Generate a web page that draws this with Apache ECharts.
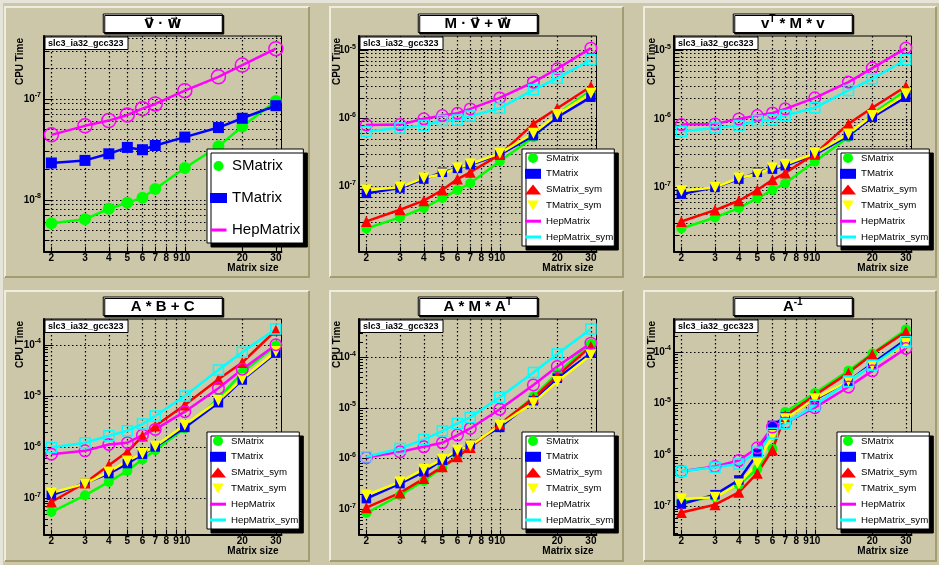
<!DOCTYPE html>
<html><head><meta charset="utf-8">
<script src="https://cdn.jsdelivr.net/npm/echarts@6/dist/echarts.min.js"></script>
<style>html,body{margin:0;padding:0;background:#ccc7a9;}#c{width:939px;height:565px;}</style>
</head><body><div id="c"></div>
<script>
// ---------------- data ----------------
const sizes = [2, 3, 4, 5, 6, 7, 10, 15, 20, 30];
const xTickValues = [2, 3, 4, 5, 6, 7, 8, 9, 10, 20, 30];
const panelTitles = ['v\u20D7 \u00B7 w\u20D7', 'M \u00B7 v\u20D7 + w\u20D7', '{t|v}{sup|T}{t| * M * v}', 'A * B + C', '{t|A * M * A}{sup|T}', '{t|A}{sup|-1}'];
const infoLabel = 'slc3_ia32_gcc323';
const xAxisTitle = 'Matrix size';
const yAxisTitle = 'CPU Time';

// panel 1 : v . w
const p1_SMatrix   = [5.84e-9, 6.40e-9, 8.15e-9, 9.33e-9, 1.05e-8, 1.28e-8, 2.07e-8, 3.39e-8, 5.33e-8, 9.55e-8];
const p1_TMatrix   = [2.32e-8, 2.46e-8, 2.86e-8, 3.31e-8, 3.14e-8, 3.46e-8, 4.19e-8, 5.21e-8, 6.44e-8, 8.59e-8];
const p1_HepMatrix = [4.41e-8, 5.42e-8, 6.11e-8, 6.95e-8, 8.03e-8, 8.93e-8, 1.21e-7, 1.66e-7, 2.17e-7, 3.16e-7];
// panel 2 : M . v + w
const p2_SMatrix       = [2.40e-8, 3.49e-8, 4.80e-8, 6.73e-8, 8.83e-8, 1.11e-7, 2.34e-7, 5.27e-7, 1.16e-6, 2.57e-6];
const p2_TMatrix       = [7.88e-8, 9.44e-8, 1.28e-7, 1.61e-7, 1.84e-7, 2.08e-7, 2.93e-7, 5.58e-7, 1.04e-6, 2.05e-6];
const p2_SMatrix_sym   = [3.05e-8, 4.53e-8, 6.15e-8, 8.83e-8, 1.28e-7, 1.61e-7, 2.93e-7, 8.30e-7, 1.41e-6, 2.94e-6];
const p2_TMatrix_sym   = [8.83e-8, 9.66e-8, 1.33e-7, 1.52e-7, 1.86e-7, 2.13e-7, 3.06e-7, 6.04e-7, 1.14e-6, 2.35e-6];
const p2_HepMatrix     = [8.02e-7, 8.10e-7, 9.85e-7, 1.10e-6, 1.19e-6, 1.38e-6, 2.00e-6, 3.41e-6, 5.37e-6, 1.08e-5];
const p2_HepMatrix_sym = [6.40e-7, 7.24e-7, 7.83e-7, 9.29e-7, 9.50e-7, 1.08e-6, 1.41e-6, 2.63e-6, 3.91e-6, 7.28e-6];
// panel 3 : vT * M * v
const p3_SMatrix       = [2.51e-8, 3.64e-8, 4.99e-8, 6.98e-8, 9.14e-8, 1.15e-7, 2.38e-7, 5.39e-7, 1.18e-6, 2.60e-6];
const p3_TMatrix       = [7.98e-8, 1.00e-7, 1.32e-7, 1.66e-7, 1.85e-7, 2.07e-7, 3.01e-7, 5.70e-7, 1.06e-6, 2.07e-6];
const p3_SMatrix_sym   = [3.18e-8, 4.66e-8, 6.38e-8, 9.14e-8, 1.29e-7, 1.62e-7, 3.08e-7, 8.45e-7, 1.45e-6, 2.97e-6];
const p3_TMatrix_sym   = [8.93e-8, 1.00e-7, 1.37e-7, 1.57e-7, 1.92e-7, 2.15e-7, 3.15e-7, 6.03e-7, 1.12e-6, 2.32e-6];
const p3_HepMatrix     = [8.26e-7, 8.45e-7, 1.00e-6, 1.12e-6, 1.22e-6, 1.40e-6, 2.03e-6, 3.44e-6, 5.51e-6, 1.08e-5];
const p3_HepMatrix_sym = [6.60e-7, 7.38e-7, 7.98e-7, 9.46e-7, 9.67e-7, 1.12e-6, 1.45e-6, 2.60e-6, 3.85e-6, 7.30e-6];
// panel 4 : A * B + C
const p4_SMatrix       = [5.47e-8, 1.16e-7, 2.12e-7, 3.48e-7, 5.79e-7, 8.81e-7, 2.34e-6, 9.04e-6, 2.88e-5, 9.70e-5];
const p4_TMatrix       = [1.16e-7, 2.02e-7, 3.08e-7, 4.83e-7, 7.36e-7, 1.02e-6, 2.45e-6, 7.43e-6, 2.06e-5, 6.87e-5];
const p4_SMatrix_sym   = [8.61e-8, 2.02e-7, 4.49e-7, 8.18e-7, 1.66e-6, 2.60e-6, 6.70e-6, 2.13e-5, 4.51e-5, 1.91e-4];
const p4_TMatrix_sym   = [1.29e-7, 1.96e-7, 3.32e-7, 5.44e-7, 7.59e-7, 1.05e-6, 2.72e-6, 8.15e-6, 2.16e-5, 7.41e-5];
const p4_HepMatrix     = [7.36e-7, 8.55e-7, 1.14e-6, 1.23e-6, 1.73e-6, 2.24e-6, 4.96e-6, 1.42e-5, 3.34e-5, 1.00e-4];
const p4_HepMatrix_sym = [9.93e-7, 1.23e-6, 1.68e-6, 2.11e-6, 2.85e-6, 4.08e-6, 1.00e-5, 3.24e-5, 7.18e-5, 2.03e-4];
// panel 5 : A * M * AT
const p5_SMatrix       = [8.47e-8, 1.90e-7, 3.64e-7, 6.68e-7, 1.09e-6, 1.71e-6, 4.59e-6, 1.67e-5, 4.83e-5, 1.84e-4];
const p5_TMatrix       = [1.63e-7, 3.22e-7, 5.48e-7, 9.33e-7, 1.36e-6, 1.90e-6, 4.13e-6, 1.39e-5, 3.84e-5, 1.20e-4];
const p5_SMatrix_sym   = [1.08e-7, 2.11e-7, 4.05e-7, 6.89e-7, 1.09e-6, 1.66e-6, 4.81e-6, 1.55e-5, 4.28e-5, 1.63e-4];
const p5_TMatrix_sym   = [1.90e-7, 3.48e-7, 6.19e-7, 9.75e-7, 1.47e-6, 1.79e-6, 4.59e-6, 1.27e-5, 3.30e-5, 1.11e-4];
const p5_HepMatrix     = [1.05e-6, 1.36e-6, 1.71e-6, 2.05e-6, 2.91e-6, 3.94e-6, 9.38e-6, 2.84e-5, 6.54e-5, 1.89e-4];
const p5_HepMatrix_sym = [1.09e-6, 1.58e-6, 2.39e-6, 3.49e-6, 4.95e-6, 6.50e-6, 1.62e-5, 4.98e-5, 1.16e-4, 3.58e-4];
// panel 6 : A^-1
const p6_SMatrix       = [1.20e-7, 1.54e-7, 2.64e-7, 5.33e-7, 1.31e-6, 6.78e-6, 1.59e-5, 4.27e-5, 9.29e-5, 2.72e-4];
const p6_TMatrix       = [1.11e-7, 1.69e-7, 3.26e-7, 1.04e-6, 3.73e-6, 5.42e-6, 1.18e-5, 2.72e-5, 5.93e-5, 1.74e-4];
const p6_SMatrix_sym   = [7.64e-8, 1.08e-7, 1.88e-7, 4.40e-7, 1.25e-6, 5.83e-6, 1.43e-5, 3.90e-5, 9.00e-5, 2.45e-4];
const p6_TMatrix_sym   = [1.39e-7, 1.50e-7, 2.72e-7, 6.89e-7, 2.38e-6, 5.02e-6, 1.23e-5, 2.72e-5, 5.50e-5, 1.45e-4];
const p6_HepMatrix     = [4.81e-7, 5.93e-7, 7.76e-7, 1.37e-6, 3.46e-6, 4.14e-6, 8.24e-6, 2.08e-5, 4.27e-5, 1.16e-4];
const p6_HepMatrix_sym = [4.81e-7, 5.75e-7, 6.68e-7, 1.13e-6, 2.64e-6, 4.02e-6, 9.14e-6, 2.61e-5, 5.50e-5, 1.57e-4];

// y tick labels (decades) per panel
const yTickLabels = [
  [1e-8, 1e-7],
  [1e-7, 1e-6, 1e-5],
  [1e-7, 1e-6, 1e-5],
  [1e-7, 1e-6, 1e-5, 1e-4],
  [1e-7, 1e-6, 1e-5, 1e-4],
  [1e-7, 1e-6, 1e-5, 1e-4]
];

// ---------------- assembly ----------------
const panelSeries = [
  {SMatrix: p1_SMatrix, TMatrix: p1_TMatrix, HepMatrix: p1_HepMatrix},
  {SMatrix: p2_SMatrix, TMatrix: p2_TMatrix, SMatrix_sym: p2_SMatrix_sym, TMatrix_sym: p2_TMatrix_sym, HepMatrix: p2_HepMatrix, HepMatrix_sym: p2_HepMatrix_sym},
  {SMatrix: p3_SMatrix, TMatrix: p3_TMatrix, SMatrix_sym: p3_SMatrix_sym, TMatrix_sym: p3_TMatrix_sym, HepMatrix: p3_HepMatrix, HepMatrix_sym: p3_HepMatrix_sym},
  {SMatrix: p4_SMatrix, TMatrix: p4_TMatrix, SMatrix_sym: p4_SMatrix_sym, TMatrix_sym: p4_TMatrix_sym, HepMatrix: p4_HepMatrix, HepMatrix_sym: p4_HepMatrix_sym},
  {SMatrix: p5_SMatrix, TMatrix: p5_TMatrix, SMatrix_sym: p5_SMatrix_sym, TMatrix_sym: p5_TMatrix_sym, HepMatrix: p5_HepMatrix, HepMatrix_sym: p5_HepMatrix_sym},
  {SMatrix: p6_SMatrix, TMatrix: p6_TMatrix, SMatrix_sym: p6_SMatrix_sym, TMatrix_sym: p6_TMatrix_sym, HepMatrix: p6_HepMatrix, HepMatrix_sym: p6_HepMatrix_sym}
];

// axis ranges / layout / styles
const X_MIN = 1.83, X_MAX = 32.1;
const yRanges = [[3.07e-9, 4.22e-7], [1.10e-8, 1.63e-5], [1.16e-8, 1.62e-5], [2.0e-8, 3.18e-4], [3.2e-8, 5.65e-4], [2.85e-8, 4.33e-4]];
const FRAME_L = [44, 359, 674], FRAME_T = [36, 319], FW = 237.5, FH = 215.5;
const PAD_L = [5, 330, 644], PAD_R = [309, 623, 936], PAD_T = [7, 291], PAD_B = [277, 561];
const BG = '#ccc7a9', LIGHT = '#eeecdf', DARK = '#a39b72';
const FONT = '"Liberation Sans", Arial, Helvetica, "DejaVu Sans", sans-serif';
const LINE_ICON = 'path://M0,0L0,0M0,3.5L16,3.5L16,6.5L0,6.5ZM16,10L16,10';
const STY = {
  SMatrix:       {color: '#00ff00', symbol: 'circle', icon: 'circle'},
  TMatrix:       {color: '#0000ff', symbol: 'rect', icon: 'rect'},
  SMatrix_sym:   {color: '#ff0000', symbol: 'triangle', icon: 'triangle'},
  TMatrix_sym:   {color: '#ffff00', symbol: 'triangle', rotate: 180, icon: 'path://M0,0L10,0L5,8.66Z'},
  HepMatrix:     {color: '#ff00ff', symbol: 'circle', empty: true, icon: LINE_ICON},
  HepMatrix_sym: {color: '#00ffff', symbol: 'rect', empty: true, icon: LINE_ICON}
};
const SYM_SIZE_BIG = {SMatrix: 12, TMatrix: 11, HepMatrix: 14};
const SYM_SIZE = {SMatrix: 10, TMatrix: 9.5, SMatrix_sym: 11, TMatrix_sym: 11, HepMatrix: 11.5, HepMatrix_sym: 10};
const DOT = {color: '#000', width: 1.2, type: [1.5, 2.5]};

function minorTicks(range) {
  const out = [];
  const d0 = Math.floor(Math.log10(range[0])), d1 = Math.ceil(Math.log10(range[1]));
  for (let d = d0; d <= d1; d++) for (let k = 2; k <= 9; k++) {
    const v = k * Math.pow(10, d);
    if (v > range[0] && v < range[1]) out.push(v);
  }
  return out;
}

const option = {
  animation: false,
  backgroundColor: BG,
  textStyle: {fontFamily: FONT},
  grid: [], xAxis: [], yAxis: [], series: [], legend: [],
  graphic: {elements: []}
};
const els = option.graphic.elements;

// canvas edge (light top/left)
els.push({type: 'polyline', silent: true, z: 1, shape: {points: [[1.5, 565], [1.5, 1.5], [939, 1.5]]}, style: {stroke: '#e6e4d9', lineWidth: 3, fill: null}});
// pad bevels
for (let r = 0; r < 2; r++) for (let c = 0; c < 3; c++) {
  const x0 = PAD_L[c], x1 = PAD_R[c], y0 = PAD_T[r], y1 = PAD_B[r];
  els.push({type: 'polyline', silent: true, z: 1, shape: {points: [[x0, y1], [x0, y0], [x1, y0]]}, style: {stroke: LIGHT, lineWidth: 2, fill: null}});
  els.push({type: 'polyline', silent: true, z: 1, shape: {points: [[x1, y0], [x1, y1], [x0, y1]]}, style: {stroke: DARK, lineWidth: 2, fill: null}});
}

const yRich = {
  b: {fontSize: 10, fontWeight: 'bold', fontFamily: FONT, color: '#000', lineHeight: 11},
  s: {fontSize: 7, fontWeight: 'bold', fontFamily: FONT, color: '#000', lineHeight: 7, padding: [0, 0, 7, 0]}
};
const titleRich = {
  t: {fontSize: 15, fontWeight: 'bold', fontFamily: FONT, fill: '#000', lineHeight: 17},
  sup: {fontSize: 10, fontWeight: 'bold', fontFamily: FONT, fill: '#000', lineHeight: 10, padding: [0, 0, 9, 0]}
};

for (let p = 0; p < 6; p++) {
  const c = p % 3, r = Math.floor(p / 3);
  const fl = FRAME_L[c], ft = FRAME_T[r];
  const fc = fl + FW / 2;
  const big = p === 0;
  const names = Object.keys(panelSeries[p]);

  option.grid.push({left: fl, top: ft, width: FW, height: FH, show: true, backgroundColor: 'transparent',
    borderColor: '#000', borderWidth: 1, containLabel: false, outerBoundsMode: 'none'});

  option.xAxis.push({
    type: 'log', logBase: 10, gridIndex: p, min: X_MIN, max: X_MAX,
    axisLine: {show: true, onZero: false, lineStyle: {color: '#000', width: 2}},
    axisTick: {show: true, inside: true, length: 5, customValues: xTickValues, lineStyle: {color: '#000', width: 1}},
    axisLabel: {show: true, customValues: xTickValues, margin: 2, color: '#000', fontSize: 10, fontWeight: 'bold', fontFamily: FONT,
      formatter: v => String(Math.round(v))},
    splitLine: {show: true, lineStyle: DOT},
    minorTick: {show: false}, minorSplitLine: {show: false}
  });

  const yr = yRanges[p];
  option.yAxis.push({
    type: 'log', logBase: 10, gridIndex: p, min: yr[0], max: yr[1], position: 'left',
    axisLine: {show: true, onZero: false, lineStyle: {color: '#000', width: 2}},
    axisTick: {show: true, inside: true, length: 9, customValues: yTickLabels[p], lineStyle: {color: '#000', width: 1}},
    axisLabel: {show: true, customValues: yTickLabels[p], margin: 3, rich: yRich,
      formatter: v => '{b|10}{s|' + Math.round(Math.log10(v)) + '}'},
    splitLine: {show: true, lineStyle: DOT},
    minorTick: {show: false}, minorSplitLine: {show: false}
  });
  option.yAxis.push({
    type: 'log', logBase: 10, gridIndex: p, min: yr[0], max: yr[1], position: 'left', offset: 0,
    axisLine: {show: false},
    axisTick: {show: true, inside: true, length: 4, customValues: minorTicks(yr), lineStyle: {color: '#000', width: 1}},
    axisLabel: {show: false},
    splitLine: {show: p < 3, lineStyle: DOT}
  });

  names.forEach(n => {
    const s = STY[n];
    const vals = panelSeries[p][n];
    option.series.push({
      type: 'line', name: n, xAxisIndex: p, yAxisIndex: 2 * p,
      data: sizes.map((x, i) => [x, vals[i]]),
      symbol: s.symbol, symbolSize: big ? SYM_SIZE_BIG[n] : SYM_SIZE[n], symbolRotate: s.rotate || 0,
      showSymbol: true, showAllSymbol: true, silent: true,
      lineStyle: {color: s.color, width: 2.5},
      itemStyle: {color: s.empty ? 'rgba(0,0,0,0)' : s.color, borderColor: s.color, borderWidth: s.empty ? 1.5 : 0},
      emphasis: {disabled: true}
    });
  });

  option.legend.push({
    left: fl + 163, top: ft + 113, orient: 'vertical', selectedMode: false,
    itemWidth: big ? 17 : 16, itemHeight: 10, itemGap: big ? 14 : 3.8,
    padding: big ? [8, 3, 4, 3] : [3, 1, 3, 3],
    backgroundColor: '#ffffff', borderColor: '#000', borderWidth: 1,
    shadowColor: '#000', shadowBlur: 0, shadowOffsetX: 4, shadowOffsetY: 4,
    itemStyle: {borderWidth: 0},
    textStyle: {fontSize: big ? 15 : 9.7, lineHeight: big ? 18 : 12, color: '#000', fontFamily: FONT},
    data: names.map(n => ({name: n, icon: STY[n].icon, itemStyle: {color: STY[n].color, borderWidth: 0}}))
  });

  // title box
  els.push({type: 'rect', z: 50, silent: true, shape: {x: fc - 59.5, y: ft - 22, width: 119, height: 18.5},
    style: {fill: '#fff', stroke: '#000', lineWidth: 1, shadowColor: '#000', shadowOffsetX: 1.5, shadowOffsetY: 1.5, shadowBlur: 0}});
  els.push({type: 'text', z: 51, silent: true, x: fc, y: ft - 22 + 9.5,
    style: {text: panelTitles[p], align: 'center', verticalAlign: 'middle', textAlign: 'center', textVerticalAlign: 'middle',
      fontSize: 15, fontWeight: 'bold', fontFamily: FONT, fill: '#000', rich: titleRich}});
  // info label box
  els.push({type: 'rect', z: 50, silent: true, shape: {x: fl + 1, y: ft + 1, width: 83, height: 12.5},
    style: {fill: '#fff', stroke: '#000', lineWidth: 1}});
  els.push({type: 'text', z: 51, silent: true, x: fl + 4, y: ft + 7.5,
    style: {text: infoLabel, align: 'left', verticalAlign: 'middle', textAlign: 'left', textVerticalAlign: 'middle',
      fontSize: 9, fontWeight: 'bold', fontFamily: FONT, fill: '#000'}});
  // axis titles
  els.push({type: 'text', z: 51, silent: true, x: fl - (c === 0 ? 24 : 21.5), y: ft + 2, rotation: Math.PI / 2,
    style: {text: yAxisTitle, align: 'right', verticalAlign: 'middle', textAlign: 'right', textVerticalAlign: 'middle',
      fontSize: 10, fontWeight: 'bold', fontFamily: FONT, fill: '#000'}});
  els.push({type: 'text', z: 51, silent: true, x: fl + FW - 3, y: ft + FH + 16.5,
    style: {text: xAxisTitle, align: 'right', verticalAlign: 'middle', textAlign: 'right', textVerticalAlign: 'middle',
      fontSize: 10, fontWeight: 'bold', fontFamily: FONT, fill: '#000'}});
}

const chart = echarts.init(document.getElementById('c'), null, {renderer: 'canvas', width: 939, height: 565});
chart.setOption(option);
</script></body></html>
